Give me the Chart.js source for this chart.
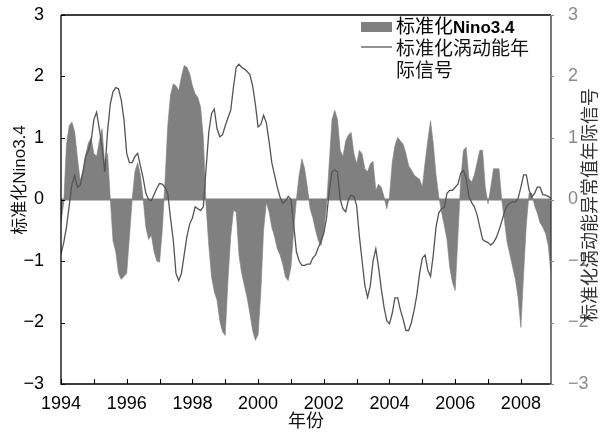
<!DOCTYPE html>
<html>
<head>
<meta charset="utf-8">
<script src="https://cdn.jsdelivr.net/npm/chart.js@4.4.1/dist/chart.umd.min.js"></script>
<style>
  html, body { margin: 0; padding: 0; background: #ffffff; }
  #wrap { width: 612px; height: 436px; }
</style>
</head>
<body>
<div id="wrap"><canvas id="c" width="612" height="436"></canvas></div>
<script>
// Monthly series, January 1994 through December 2008
const startYear = 1994;
const yearLabels = [1994, 1996, 1998, 2000, 2002, 2004, 2006, 2008];
const yTickValues = [-3, -2, -1, 0, 1, 2, 3];

const seriesNames = ['标准化Nino3.4', '标准化涡动能年际信号'];
const leftTitle = '标准化Nino3.4';
const rightTitle = '标准化涡动能异常值年际信号';
const bottomTitle = '年份';

// Standardized Nino3.4 index
const ninoIndex = [
  -0.37, -0.05, 0.9, 1.2, 1.26, 1.1, 0.68, 0.3, 0.45, 0.72, 0.92, 1.0,
  0.75, 0.7, 0.95, 1.15, 0.55, 0.75, 0.02, -0.67, -0.85, -1.2, -1.3, -1.25,
  -1.2, -0.6, 0.0, 0.45, 0.6, 0.4, 0.02, -0.45, -0.65, -0.58, -0.85, -1.0,
  -1.02, -0.5, 0.3, 1.2, 1.7, 1.88, 1.85, 1.77, 2.0, 2.18, 2.15, 2.05,
  1.85, 1.72, 1.66, 1.5, 1.0, -0.1, -0.75, -1.26, -1.5, -1.64, -1.97, -2.15,
  -2.21, -1.3, -0.6, -0.18, -0.2, -0.9, -1.2, -1.4, -1.6, -1.85, -2.13, -2.29,
  -2.2, -1.5, -0.5, -0.05, -0.2, -0.45, -0.6, -0.8, -0.9, -1.05, -1.26, -1.32,
  -1.1, -0.5, 0.0, 0.4, 0.66, 0.5, 0.2, -0.15, -0.3, -0.5, -0.67, -0.75,
  -0.5, -0.1, 0.6, 1.3, 1.45, 1.3, 0.8, 0.7, 0.95, 1.05, 1.09, 0.75,
  0.58, 0.8, 0.74, 0.5, 0.45, 0.58, 0.62, 0.15, 0.25, 0.2, 0.05, -0.15,
  0.05, 0.6, 0.88, 1.01, 0.95, 0.9, 0.75, 0.55, 0.48, 0.4, 0.36, 0.33,
  0.2, 0.6, 0.96, 1.28, 0.9, 0.4, 0.05, -0.2, -0.42, -0.65, -1.1, -1.35,
  -1.48, -0.6, 0.3, 0.8, 0.85, 0.35, 0.28, 0.4, 0.6, 0.8, 0.8, 0.2,
  -0.07, 0.2, 0.5, 0.5, 0.5, 0.0, -0.35, -0.7, -0.9, -1.1, -1.3, -1.6,
  -2.08, -1.2, -0.4, 0.1, 0.1, -0.1, -0.22, -0.38, -0.45, -0.55, -0.75, -1.2
];

// Standardized interannual signal of eddy kinetic energy
const ekeSignal = [
  -0.88, -0.7, -0.45, -0.1, 0.25, 0.39, 0.2, 0.23, 0.45, 0.7, 0.8, 0.95,
  1.3, 1.42, 1.15, 0.85, 0.45, 1.1, 1.55, 1.75, 1.82, 1.8, 1.62, 1.3,
  0.75, 0.6, 0.6, 0.7, 0.75, 0.55, 0.35, 0.1, 0.0, -0.02, 0.08, 0.18,
  0.26, 0.25, 0.2, 0.1, -0.3, -0.65, -1.2, -1.32, -1.2, -0.9, -0.6, -0.4,
  -0.3, -0.12, -0.15, -0.18, -0.12, 0.5, 1.1, 1.4, 1.47, 1.15, 1.02, 1.05,
  1.2, 1.33, 1.45, 1.83, 2.15, 2.2, 2.15, 2.12, 2.08, 2.03, 1.85, 1.55,
  1.18, 1.22, 1.37, 1.25, 0.95, 0.6, 0.4, 0.2, 0.04, -0.06, -0.02, 0.05,
  0.0, -0.4, -0.85, -1.0, -1.07, -1.07, -1.05, -1.05, -0.95, -0.9, -0.78, -0.68,
  -0.55, -0.3, 0.15, 0.45, 0.48, 0.45, 0.0, -0.15, -0.2, 0.0, 0.07, 0.05,
  -0.1, -0.6, -1.0, -1.4, -1.59, -1.4, -1.0, -0.8, -1.1, -1.45, -1.75, -1.97,
  -2.02, -1.85, -1.6, -1.6, -1.8, -1.95, -2.13, -2.13, -2.0, -1.8, -1.55, -1.2,
  -0.95, -0.9, -1.15, -1.25, -0.9, -0.45, -0.22, -0.15, -0.13, 0.1, 0.15, 0.15,
  0.2, 0.25, 0.42, 0.47, 0.35, 0.05, -0.05, -0.12, -0.25, -0.45, -0.65, -0.68,
  -0.7, -0.74, -0.7, -0.62, -0.5, -0.36, -0.2, -0.1, -0.06, -0.04, -0.04, 0.02,
  0.2, 0.4, 0.4, 0.15, 0.04, 0.1, 0.2, 0.2, 0.08, 0.07, 0.05, 0.02
];

const FONT = "'Liberation Sans', 'Noto Sans CJK SC', Arial, sans-serif";
const FILL_GRAY = '#808080';
const LINE_GRAY = '#555555';
const RIGHT_GRAY = '#8a8a8a';

// decimal year of each monthly sample
const monthTimes = ninoIndex.map((_, i) => startYear + i / 12);
const toPoints = (vals) => vals.map((v, i) => ({ x: monthTimes[i], y: v }));

const minus = (v) => String(v).replace('-', '\u2212');

// keep the plot area fixed: no extra room for half-height tick labels
const fixVertical = (s) => {
  s.width = 61;
  s.paddingTop = 0;
  s.paddingBottom = 0;
};

// frame, tick marks, zero line, titles and legend
const decorations = {
  id: 'decorations',
  beforeDatasetsDraw(chart) {
    const { ctx, chartArea: a, scales } = chart;
    const y0 = scales.y.getPixelForValue(0);
    ctx.save();
    ctx.strokeStyle = FILL_GRAY;
    ctx.lineWidth = 2;
    ctx.beginPath();
    ctx.moveTo(a.left, y0);
    ctx.lineTo(a.right, y0);
    ctx.stroke();
    ctx.restore();
  },
  afterDraw(chart) {
    const { ctx, chartArea: a, scales } = chart;
    const x = scales.x, y = scales.y;
    ctx.save();

    // plot frame
    ctx.strokeStyle = '#000';
    ctx.lineWidth = 1.3;
    ctx.beginPath();
    ctx.moveTo(a.left, a.top);
    ctx.lineTo(a.left, a.bottom);
    ctx.lineTo(a.right, a.bottom);
    ctx.moveTo(a.left, a.top);
    ctx.lineTo(a.right, a.top);
    ctx.stroke();
    ctx.strokeStyle = '#333';
    ctx.beginPath();
    ctx.moveTo(a.right, a.top);
    ctx.lineTo(a.right, a.bottom);
    ctx.stroke();

    // inward year ticks on the bottom axis
    ctx.strokeStyle = '#000';
    ctx.lineWidth = 1;
    ctx.beginPath();
    x.ticks.forEach(t => {
      const px = Math.round(x.getPixelForValue(t.value)) + 0.5;
      ctx.moveTo(px, a.bottom);
      ctx.lineTo(px, a.bottom - 5);
    });
    // inward ticks on the left axis
    y.ticks.forEach(t => {
      const py = Math.round(y.getPixelForValue(t.value)) + 0.5;
      ctx.moveTo(a.left, py);
      ctx.lineTo(a.left + 4, py);
    });
    ctx.stroke();

    // short ticks on the right axis
    const y2 = scales.y2;
    ctx.strokeStyle = RIGHT_GRAY;
    ctx.beginPath();
    y2.ticks.forEach(t => {
      const py = Math.round(y2.getPixelForValue(t.value)) + 0.5;
      ctx.moveTo(a.right - 1, py);
      ctx.lineTo(a.right + 3, py);
    });
    ctx.stroke();

    // axis titles
    ctx.fillStyle = '#111';
    ctx.textAlign = 'center';
    ctx.textBaseline = 'middle';
    ctx.font = '17px ' + FONT;
    ctx.save();
    ctx.translate(20, 180);
    ctx.rotate(-Math.PI / 2);
    ctx.fillText(leftTitle, 0, 0);
    ctx.restore();

    ctx.fillStyle = '#333';
    ctx.font = '18px ' + FONT;
    ctx.save();
    ctx.translate(591, 205);
    ctx.rotate(-Math.PI / 2);
    ctx.fillText(rightTitle, 0, 0);
    ctx.restore();

    ctx.fillStyle = '#111';
    ctx.font = '18px ' + FONT;
    ctx.fillText(bottomTitle, (a.left + a.right) / 2, 422);

    // legend
    const lx = 361, sw = 31, tx = 396;
    ctx.fillStyle = FILL_GRAY;
    ctx.fillRect(lx, 22, sw, 10);
    ctx.strokeStyle = LINE_GRAY;
    ctx.lineWidth = 1.3;
    ctx.beginPath();
    ctx.moveTo(lx, 47);
    ctx.lineTo(lx + sw, 47);
    ctx.stroke();

    ctx.textAlign = 'left';
    ctx.fillStyle = '#000';
    // first entry: CJK part regular, latin part bold
    const name0 = chart.data.datasets[0].label;
    const m = name0.match(/^([^A-Za-z0-9]*)(.*)$/);
    ctx.font = '19px ' + FONT;
    ctx.fillText(m[1], tx, 28);
    const w1 = ctx.measureText(m[1]).width;
    ctx.font = 'bold 17px ' + FONT;
    ctx.fillText(m[2], tx + w1, 28);

    // second entry wrapped onto two lines
    ctx.font = '19px ' + FONT;
    ctx.fillStyle = '#111';
    const name1 = chart.data.datasets[1].label;
    const lines = [];
    let cur = '';
    for (const ch of name1) {
      if (ctx.measureText(cur + ch).width > 140) { lines.push(cur); cur = ch; }
      else cur += ch;
    }
    if (cur) lines.push(cur);
    lines.forEach((ln, i) => ctx.fillText(ln, tx, 50 + i * 22));

    ctx.restore();
  }
};

new Chart(document.getElementById('c'), {
  type: 'line',
  data: {
    datasets: [
      {
        label: seriesNames[0],
        data: toPoints(ninoIndex),
        fill: 'origin',
        backgroundColor: FILL_GRAY,
        borderColor: FILL_GRAY,
        borderWidth: 0.6,
        pointRadius: 0,
        tension: 0,
        order: 2
      },
      {
        label: seriesNames[1],
        data: toPoints(ekeSignal),
        fill: false,
        borderColor: LINE_GRAY,
        borderWidth: 1.3,
        pointRadius: 0,
        tension: 0,
        order: 1
      }
    ]
  },
  options: {
    responsive: false,
    animation: false,
    devicePixelRatio: 1,
    layout: { padding: { top: 15, left: 0, right: 0, bottom: 0 } },
    plugins: { legend: { display: false }, tooltip: { enabled: false } },
    scales: {
      x: {
        type: 'linear',
        min: startYear,
        max: monthTimes[monthTimes.length - 1],
        grid: { display: false },
        border: { display: false },
        ticks: {
          stepSize: 1,
          includeBounds: false,
          autoSkip: false,
          maxRotation: 0,
          padding: 1,
          color: '#000',
          font: { size: 18, family: FONT },
          callback: (v) => yearLabels.includes(v) ? String(v) : ''
        },
        afterFit: (s) => { s.height = 52; s.paddingLeft = 0; s.paddingRight = 0; }
      },
      y: {
        position: 'left',
        min: -3,
        max: 3,
        grid: { display: false },
        border: { display: false },
        ticks: {
          stepSize: 1,
          padding: 9,
          color: '#000',
          font: { size: 18, family: FONT },
          callback: (v) => yTickValues.includes(v) ? minus(v) : ''
        },
        afterFit: fixVertical
      },
      y2: {
        position: 'right',
        min: -3,
        max: 3,
        grid: { display: false },
        border: { display: false },
        ticks: {
          stepSize: 1,
          padding: 9,
          color: RIGHT_GRAY,
          font: { size: 18, family: FONT },
          callback: (v) => yTickValues.includes(v) ? minus(v) : ''
        },
        afterFit: fixVertical
      }
    }
  },
  plugins: [decorations]
});
</script>
</body>
</html>
